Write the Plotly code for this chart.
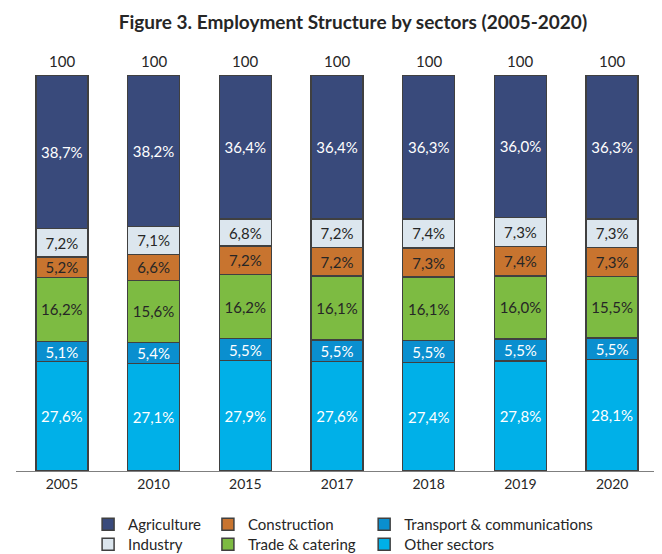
import plotly.graph_objects as go

years = ["2005", "2010", "2015", "2017", "2018", "2019", "2020"]
other = [27.6, 27.1, 27.9, 27.6, 27.4, 27.8, 28.1]
transport = [5.1, 5.4, 5.5, 5.5, 5.5, 5.5, 5.5]
trade = [16.2, 15.6, 16.2, 16.1, 16.1, 16.0, 15.5]
construction = [5.2, 6.6, 7.2, 7.2, 7.3, 7.4, 7.3]
industry = [7.2, 7.1, 6.8, 7.2, 7.4, 7.3, 7.3]
agriculture = [38.7, 38.2, 36.4, 36.4, 36.3, 36.0, 36.3]
totals = [100, 100, 100, 100, 100, 100, 100]

FONT = "Lato"

# (name, values, color, text color, legend id, column x, row y) -- legend placement in container fractions
series = [
    ("Other sectors", other, "#00B0E8", "white", "legend6", 0.538, 0.0614),
    ("Transport & communications", transport, "#0A8FCF", "white", "legend5", 0.538, 0.0975),
    ("Trade & catering", trade, "#7DBB42", "#262626", "legend4", 0.302, 0.0614),
    ("Construction", construction, "#C8742F", "#262626", "legend3", 0.302, 0.0975),
    ("Industry", industry, "#DCE6EE", "#262626", "legend2", 0.121, 0.0614),
    ("Agriculture", agriculture, "#394A7B", "white", "legend", 0.121, 0.0975),
]

fig = go.Figure()
legends = {}
for name, vals, color, tcolor, leg, lx, ly in series:
    fig.add_trace(go.Bar(
        x=years, y=vals, name=name,
        marker=dict(color=color, line=dict(color="#404040", width=1.5)),
        text=[f"{v:.1f}%".replace(".", ",") for v in vals],
        textposition="inside", insidetextanchor="middle", textangle=0,
        constraintext="none",
        textfont=dict(family=FONT, size=15, color=tcolor),
        hoverinfo="none", legend=leg,
    ))
    legends[leg] = dict(
        orientation="v", yanchor="top", y=ly, xanchor="left", x=lx,
        xref="container", yref="container",
        font=dict(family=FONT, size=15, color="#262626"),
        itemwidth=30, bgcolor="rgba(0,0,0,0)",
    )

for i, tot in enumerate(totals):
    fig.add_annotation(
        x=i, y=tot, xref="x", yref="y", text=str(tot), showarrow=False,
        yanchor="bottom", yshift=3,
        font=dict(family=FONT, size=15, color="#262626"),
    )

fig.update_layout(
    width=662, height=554,
    margin=dict(l=8, r=12, t=67, b=91, autoexpand=False),
    paper_bgcolor="white", plot_bgcolor="white",
    barmode="stack", bargap=0.433,
    separators=",.",
    hovermode=False,
    title=dict(
        text="<b>Figure 3. Employment Structure by sectors (2005-2020)</b>",
        x=0.521, xanchor="center", y=0.975, yanchor="middle",
        font=dict(family=FONT, size=19, color="#262626"),
    ),
    xaxis=dict(
        type="category", range=[-0.5, 6.5], showline=True, linecolor="#7f7f7f",
        linewidth=1, ticks="", tickfont=dict(family=FONT, size=14, color="#262626"),
        showgrid=False,
    ),
    yaxis=dict(range=[0, 100.001], visible=False, showgrid=False),
    showlegend=True,
    **legends,
)

fig.write_html("out.html", config={"displayModeBar": False})
